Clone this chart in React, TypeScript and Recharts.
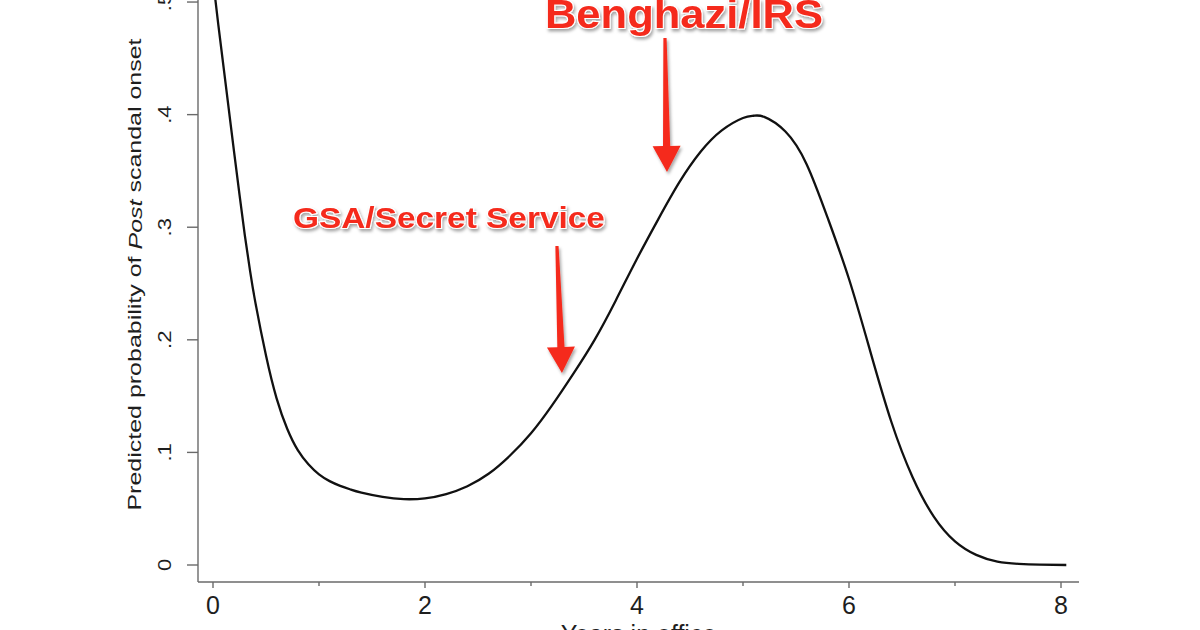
import React from "react";
import { LineChart, Line, XAxis, YAxis, ReferenceLine, ReferenceDot } from "recharts";

// Years in office (x) and predicted probability (y)
const years = [0, 0.05, 0.1, 0.15, 0.2, 0.25, 0.3, 0.35, 0.4, 0.5, 0.6, 0.7, 0.8, 0.9, 1.0, 1.1, 1.2, 1.3, 1.4, 1.6, 1.8, 2.0, 2.2, 2.4, 2.6, 2.8, 3.0, 3.2, 3.4, 3.6, 3.8, 4.0, 4.2, 4.4, 4.6, 4.8, 5.0, 5.1, 5.2, 5.4, 5.6, 5.8, 6.0, 6.2, 6.4, 6.6, 6.8, 7.0, 7.2, 7.4, 7.6, 7.8, 8.05];
const prob = [0.52, 0.48, 0.442, 0.404, 0.366, 0.329, 0.293, 0.261, 0.233, 0.186, 0.148, 0.121, 0.102, 0.0895, 0.0805, 0.0745, 0.0703, 0.067, 0.0643, 0.0605, 0.0585, 0.0592, 0.063, 0.07, 0.081, 0.097, 0.117, 0.142, 0.17, 0.2, 0.235, 0.272, 0.307, 0.34, 0.367, 0.386, 0.397, 0.399, 0.398, 0.385, 0.356, 0.308, 0.254, 0.19, 0.127, 0.078, 0.043, 0.021, 0.009, 0.003, 0.001, 0.0003, 0];

const xTicks = [0, 1, 2, 3, 4, 5, 6, 7, 8];
const yTicks = [0, 0.1, 0.2, 0.3, 0.4, 0.5];

// Annotations: label text, label anchor, arrow top and arrow tip (data units)
const annLabels = ["GSA/Secret Service", "Benghazi/IRS"];
const annLabelX = [2.226, 4.443];
const annLabelY = [0.2993, 0.4769];
const annArrowTop = [[3.245, 0.2833], [4.264, 0.468]];
const annArrowTip = [[3.292, 0.1705], [4.283, 0.349]];

const data = years.map((x, i) => ({ x, y: prob[i] }));

const RED = "#f52a1c";
const AXIS = "#6a6a6a";
const INK = "#1e1e1e";
const FONT = "'Liberation Sans', Arial, Helvetica, sans-serif";

const XTick = (props: any) => {
  const { x, y, payload } = props;
  const v = payload.value;
  const major = v % 2 === 0;
  return (
    <g>
      <line x1={x} x2={x} y1={y} y2={y + (major ? 6 : 4)} stroke={AXIS} strokeWidth={1.4} />
      {major && (
        <text x={x} y={y + 32} textAnchor="middle" fontSize={25} fill={INK} fontFamily={FONT}>
          {String(v)}
        </text>
      )}
    </g>
  );
};

const YTick = (props: any) => {
  const { x, y, payload } = props;
  const v = payload.value;
  const label = v === 0 ? "0" : "." + String(Math.round(v * 10));
  return (
    <g>
      <line x1={x - 11} x2={x} y1={y} y2={y} stroke={AXIS} strokeWidth={1.4} />
      <text
        transform={`translate(${x - 33},${y}) scale(0.8,1) rotate(-90)`}
        textAnchor="middle"
        dominantBaseline="central"
        fontSize={22}
        fill={INK}
        fontFamily={FONT}
      >
        {label}
      </text>
    </g>
  );
};

const YTitle = (props: any) => {
  const vb = props.viewBox || { x: 0, y: 7, width: 198, height: 625 };
  const cx = vb.x + 135;
  const cy = vb.y + vb.height / 2 + 5;
  return (
    <text
      transform={`translate(${cx},${cy}) scale(0.75,1) rotate(-90)`}
      textAnchor="middle"
      dominantBaseline="central"
      fontSize={25}
      fill={INK}
      fontFamily={FONT}
    >
      {"Predicted probability of "}
      <tspan fontStyle="italic">Post</tspan>
      {" scandal onset"}
    </text>
  );
};

const XTitle = (props: any) => {
  const vb = props.viewBox || { x: 198, y: 632, width: 881, height: 60 };
  return (
    <text x={vb.x + vb.width / 2} y={vb.y + 61} textAnchor="middle" fontSize={25} fill={INK} fontFamily={FONT}>
      Years in office
    </text>
  );
};

const ShadowDefs = ({ id }: { id: string }) => (
  <defs>
    <filter id={id} x="-20%" y="-40%" width="140%" height="180%">
      <feDropShadow dx="1.5" dy="2.5" stdDeviation="1.6" floodColor="#000" floodOpacity="0.35" />
    </filter>
  </defs>
);

const makeArrow = (idx: number) => (p: any) => {
  const { x1, y1, x2, y2 } = p;
  const dx = x2 - x1;
  const dy = y2 - y1;
  const L = Math.hypot(dx, dy) || 1;
  const ux = dx / L;
  const uy = dy / L;
  const nx = -uy;
  const ny = ux;
  const hb = 26;
  const bx = x2 - ux * hb;
  const by = y2 - uy * hb;
  const pts = [
    [x1 + nx * 1.6, y1 + ny * 1.6],
    [bx + nx * 3.6, by + ny * 3.6],
    [bx + nx * 14, by + ny * 14],
    [x2, y2],
    [bx - nx * 14, by - ny * 14],
    [bx - nx * 3.6, by - ny * 3.6],
    [x1 - nx * 1.6, y1 - ny * 1.6],
  ]
    .map((q) => q.join(","))
    .join(" ");
  const id = `arrowShadow${idx}`;
  return (
    <g>
      <ShadowDefs id={id} />
      <polygon points={pts} fill={RED} filter={`url(#${id})`} />
    </g>
  );
};

const makeLabel = (idx: number, fontSize: number, width: number) => (p: any) => {
  const { cx, cy } = p;
  const id = `labelShadow${idx}`;
  return (
    <g>
      <ShadowDefs id={id} />
      <text
        x={cx}
        y={cy}
        textAnchor="middle"
        fontSize={fontSize}
        fontWeight="bold"
        fill={RED}
        stroke="#ffffff"
        strokeWidth={2}
        paintOrder="stroke"
        textLength={width}
        lengthAdjust="spacingAndGlyphs"
        fontFamily={FONT}
        filter={`url(#${id})`}
      >
        {annLabels[idx]}
      </text>
    </g>
  );
};

const labelSizes = [30, 40];
const labelWidths = [312, 278];

export default function App() {
  return (
    <div
      style={{
        position: "fixed",
        left: 0,
        top: 0,
        width: 1200,
        height: 630,
        overflow: "hidden",
        background: "#ffffff",
      }}
    >
      <div style={{ position: "absolute", left: 0, top: -50 }}>
        <LineChart
          width={1200}
          height={700}
          data={data}
          margin={{ top: 7, right: 121, left: 0, bottom: 8 }}
        >
          <XAxis
            dataKey="x"
            type="number"
            domain={[-0.1415, 8.1698]}
            ticks={xTicks}
            interval={0}
            allowDataOverflow
            height={60}
            tickSize={0}
            tickMargin={0}
            tickLine={false}
            axisLine={{ stroke: AXIS, strokeWidth: 1.4 }}
            tick={<XTick />}
            label={<XTitle />}
          />
          <YAxis
            type="number"
            domain={[-0.0151, 0.54]}
            ticks={yTicks}
            interval={0}
            allowDataOverflow
            width={198}
            tickSize={0}
            tickMargin={0}
            tickLine={false}
            axisLine={{ stroke: AXIS, strokeWidth: 1.4 }}
            tick={<YTick />}
            label={<YTitle />}
          />
          <Line
            type="natural"
            dataKey="y"
            stroke="#111111"
            strokeWidth={2.3}
            dot={false}
            activeDot={false}
            isAnimationActive={false}
          />
          {annLabels.map((_, i) => (
            <ReferenceLine
              key={`arr${i}`}
              segment={[
                { x: annArrowTop[i][0], y: annArrowTop[i][1] },
                { x: annArrowTip[i][0], y: annArrowTip[i][1] },
              ]}
              ifOverflow="visible"
              shape={makeArrow(i)}
            />
          ))}
          {annLabels.map((_, i) => (
            <ReferenceDot
              key={`lab${i}`}
              x={annLabelX[i]}
              y={annLabelY[i]}
              ifOverflow="visible"
              shape={makeLabel(i, labelSizes[i], labelWidths[i])}
            />
          ))}
        </LineChart>
      </div>
    </div>
  );
}
